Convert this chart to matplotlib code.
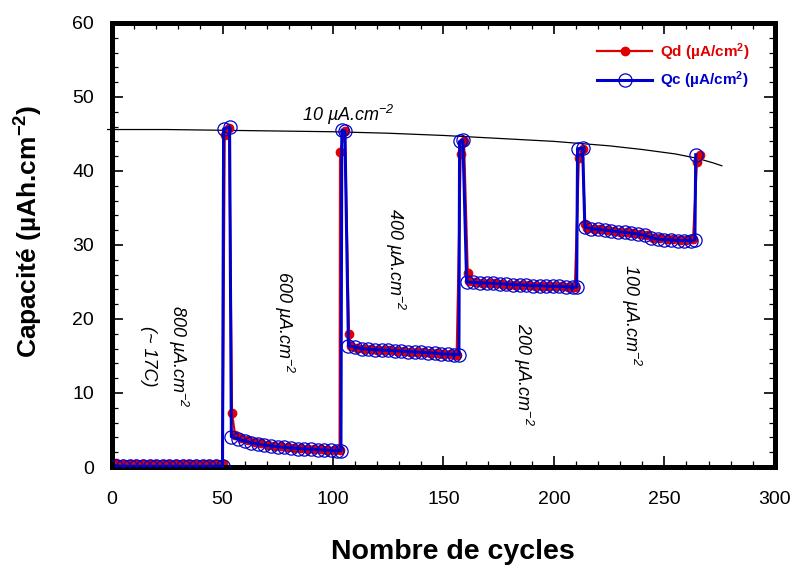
import numpy as np
import matplotlib
matplotlib.use("Agg")
import matplotlib.pyplot as plt

plt.rcParams['font.family'] = ['Liberation Sans', 'DejaVu Sans']
plt.rcParams['mathtext.fontset'] = 'custom'
plt.rcParams['mathtext.rm'] = 'Liberation Sans'
plt.rcParams['mathtext.it'] = 'Liberation Sans:italic'
plt.rcParams['mathtext.bf'] = 'Liberation Sans:bold'
plt.rcParams['mathtext.default'] = 'regular'

# ---- data ----
cycles_d = [2, 5, 8, 11, 14, 17, 20, 23, 26, 29, 32, 35, 38, 41, 44, 47, 50,
            51, 53,
            54.3, 55.7, 58.5, 61.5, 64.5, 67.5, 70.5, 73.5, 76.5, 79.5, 82.5, 85.5, 88.5, 91.5,
            94.5, 97.5, 100.5, 103,
            103.2, 105.4,
            107.2, 108, 111, 114, 117, 120, 123, 126, 129, 132, 135, 138, 141, 144, 147, 150,
            153, 156,
            157.8, 159.3,
            161, 161.5, 164.5, 167.5, 170.5, 173.5, 176.5, 179.5, 182.5, 185.5, 188.5, 191.5,
            194.5, 197.5, 200.5, 203.5, 206.5, 209.5,
            211.3, 213,
            214, 215, 218, 221, 224, 227, 230, 233, 236, 239, 242, 245, 248, 251, 254, 257,
            260, 263,
            264.7, 266]
Qd = [0.5, 0.4, 0.4, 0.4, 0.4, 0.4, 0.4, 0.4, 0.4, 0.4, 0.4, 0.4, 0.4, 0.4, 0.4, 0.4, 0.4,
      44.8, 45.8,
      7.3, 4.3, 3.9, 3.6, 3.4, 3.2, 3.0, 2.9, 2.8, 2.7, 2.6, 2.55, 2.5, 2.45, 2.4, 2.35,
      2.3, 2.25,
      42.5, 45.4,
      18.0, 16.3, 16.1, 16.0, 15.9, 15.85, 15.8, 15.75, 15.7, 15.65, 15.6, 15.55, 15.5,
      15.45, 15.4, 15.3, 15.25, 15.2,
      42.3, 44.0,
      26.2, 25.1, 25.0, 24.9, 24.85, 24.8, 24.7, 24.65, 24.6, 24.6, 24.55, 24.5, 24.5,
      24.45, 24.4, 24.4, 24.35, 24.3,
      41.8, 43.0,
      32.8, 32.3, 32.2, 32.1, 32.0, 31.9, 31.8, 31.7, 31.6, 31.5, 31.3, 31.0, 30.9, 30.8,
      30.8, 30.7, 30.7, 30.8,
      41.2, 42.2]

cycles_c = [2, 5, 8, 11, 14, 17, 20, 23, 26, 29, 32, 35, 38, 41, 44, 47, 50,
            50.5, 53.2,
            54, 57, 60, 63, 66, 69, 72, 75, 78, 81, 84, 87, 90, 93, 96, 99, 102, 103.6,
            104, 105.4,
            107, 110, 113, 116, 119, 122, 125, 128, 131, 134, 137, 140, 143, 146, 149, 152,
            155, 157,
            157.3, 158.8,
            160.5, 163.5, 166.5, 169.5, 172.5, 175.5, 178.5, 181.5, 184.5, 187.5, 190.5,
            193.5, 196.5, 199.5, 202.5, 205.5, 208.5, 210.3,
            210.7, 213,
            214, 217, 220, 223, 226, 229, 232, 235, 238, 241, 244, 247, 250, 253, 256, 259,
            262, 263.8,
            264.2]
Qc = [0.15, 0.1, 0.1, 0.1, 0.1, 0.1, 0.1, 0.1, 0.1, 0.1, 0.1, 0.1, 0.1, 0.1, 0.1, 0.1, 0.15,
      45.7, 45.9,
      4.1, 3.8, 3.5, 3.3, 3.1, 2.95, 2.85, 2.75, 2.65, 2.6, 2.5, 2.45, 2.4, 2.35, 2.3,
      2.25, 2.2, 2.2,
      45.5, 45.4,
      16.4, 16.2, 16.0, 15.9, 15.85, 15.8, 15.75, 15.7, 15.65, 15.6, 15.55, 15.5, 15.45,
      15.4, 15.3, 15.25, 15.2, 15.2,
      44.0, 44.2,
      25.0, 24.95, 24.9, 24.85, 24.8, 24.75, 24.7, 24.65, 24.6, 24.55, 24.5, 24.5, 24.45,
      24.4, 24.4, 24.35, 24.3, 24.3,
      43.0, 43.1,
      32.4, 32.2, 32.1, 32.0, 31.9, 31.8, 31.7, 31.6, 31.5, 31.3, 31.0, 30.8, 30.7, 30.7,
      30.6, 30.6, 30.6, 30.7,
      42.2]

trend_x = [-2, 25, 50, 75, 100, 125, 150, 175, 200, 225, 240, 255, 265, 272, 276]
trend_y = [45.6, 45.6, 45.5, 45.4, 45.3, 45.1, 44.8, 44.4, 44.0, 43.4, 42.9, 42.3, 41.7, 41.1, 40.7]

rate_labels = ['800 µA.cm$^{-2}$\n(~ 17C)', '600 µA.cm$^{-2}$', '400 µA.cm$^{-2}$',
               '200 µA.cm$^{-2}$', '100 µA.cm$^{-2}$']
rate_pos_x = [24, 78, 128, 186, 235]
rate_pos_y = [15, 19.5, 28, 12.5, 20.5]
top_label = '10 µA.cm$^{-2}$'

red = '#e00000'
blue = '#0000cc'

fig = plt.figure(figsize=(7.98, 5.74), dpi=100)
ax = fig.add_axes([0.1404, 0.1864, 0.8306, 0.7736])

ax.plot(trend_x, trend_y, color='black', lw=0.9, zorder=1, clip_on=False)
ax.plot(cycles_d, Qd, color=red, lw=1.6, marker='o', ms=6, mfc=red, mec=red,
        label='Qd (µA/cm$^\\mathbf{2}$)', zorder=2)
ax.plot(cycles_c, Qc, color=blue, lw=2.2, marker='o', ms=9.5, mfc='none', mec=blue, mew=0.9,
        label='Qc (µA/cm$^\\mathbf{2}$)', zorder=3)

ax.set_xlim(0, 300)
ax.set_ylim(0, 60)
ax.set_xticks(np.arange(0, 301, 50))
ax.set_yticks(np.arange(0, 61, 10))
ax.set_xticks(np.arange(0, 301, 10), minor=True)
ax.set_yticks(np.arange(0, 61, 2), minor=True)
ax.tick_params(which='both', direction='in', top=True, right=True, labelsize=14)
ax.tick_params(which='major', length=8, width=1.2)
ax.tick_params(which='minor', length=4, width=0.9)
ax.tick_params(axis='x', pad=17)
ax.tick_params(axis='y', pad=13)
for sp in ax.spines.values():
    sp.set_linewidth(3.6)

ax.set_xlabel('Nombre de cycles', fontsize=20.5, fontweight='bold')
ax.set_ylabel('Capacité (µAh.cm$^{\\mathbf{-2}}$)', fontsize=19, fontweight='bold')
ax.xaxis.set_label_coords(0.514, -0.163)
ax.yaxis.set_label_coords(-0.101, 0.53)

for lab, px, py in zip(rate_labels, rate_pos_x, rate_pos_y):
    ax.text(px, py, lab, rotation=-90, fontsize=13, style='italic',
            ha='center', va='center', multialignment='center', linespacing=1.7)
ax.text(107, 47.6, top_label, fontsize=13, style='italic', ha='center', va='center')

leg = ax.legend(loc='upper right', bbox_to_anchor=(0.982, 0.99), frameon=False,
                handlelength=3.6, handletextpad=0.5, labelspacing=0.45,
                prop={'weight': 'bold', 'size': 11})
for txt, col in zip(leg.get_texts(), [red, blue]):
    txt.set_color(col)

fig.savefig('out.png', dpi=100)
